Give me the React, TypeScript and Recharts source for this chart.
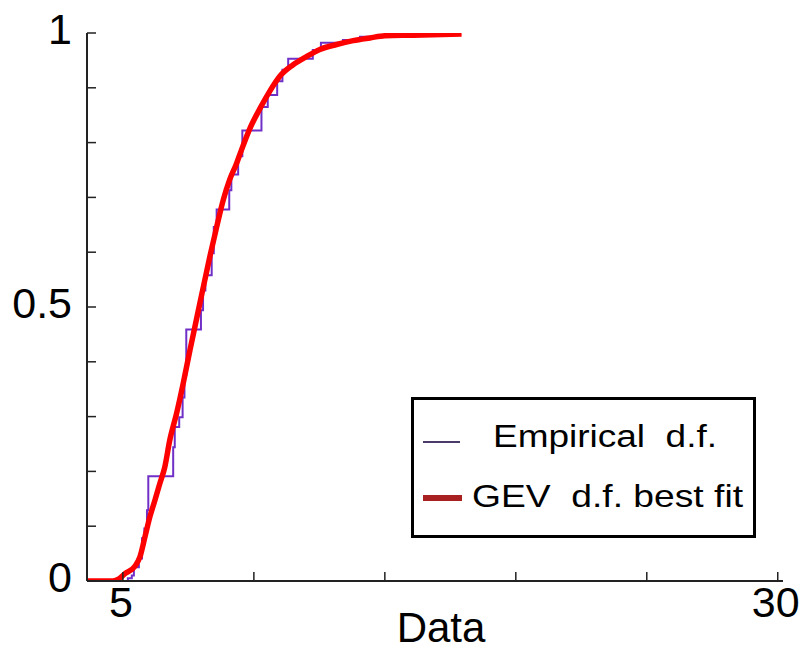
import { Line, LineChart, XAxis, YAxis } from "recharts";

// GEV fitted CDF
const gevX = [3.63, 4.62, 4.85, 5.08, 5.46, 5.65, 5.84, 6.03, 6.22, 6.41, 6.6, 6.79, 7.05, 7.3, 7.56, 7.94, 8.32, 8.58, 8.83, 9.08, 9.34, 9.5, 9.85, 10.23, 10.61, 10.99, 11.5, 12.01, 12.52, 13.16, 13.79, 14.43, 15.0, 16.07, 17.93];
const gevY = [0, 0, 0.004, 0.0135, 0.027, 0.044, 0.08, 0.117, 0.147, 0.178, 0.208, 0.257, 0.306, 0.36, 0.421, 0.507, 0.592, 0.646, 0.695, 0.733, 0.762, 0.783, 0.826, 0.862, 0.894, 0.921, 0.942, 0.957, 0.97, 0.979, 0.986, 0.991, 0.995, 0.996, 0.998];

// empirical d.f. jumps (x where the step rises, level after the jump)
const empX = [3.63, 5.19, 5.34, 5.42, 5.61, 5.73, 5.82, 5.92, 5.97, 6.92, 6.98, 7.15, 7.28, 7.35, 7.42, 7.98, 8.06, 8.15, 8.39, 8.47, 8.58, 9.06, 9.14, 9.4, 9.56, 10.29, 10.53, 10.89, 11.09, 11.31, 12.25, 12.56, 13.4, 14.05, 15.19, 16.34];
const empY = [0, 0.005, 0.01, 0.025, 0.041, 0.078, 0.096, 0.129, 0.191, 0.244, 0.281, 0.299, 0.335, 0.376, 0.459, 0.494, 0.53, 0.558, 0.598, 0.646, 0.678, 0.713, 0.742, 0.775, 0.822, 0.865, 0.887, 0.912, 0.933, 0.953, 0.969, 0.982, 0.987, 0.993, 0.999, 1];

const xTicks = [5, 10, 15, 20, 25, 30];
const xTickLabels = [5, 30];
const yTicks = [0, 0.1, 0.2, 0.3, 0.4, 0.5, 0.6, 0.7, 0.8, 0.9, 1];
const yTickLabels = [0, 0.5, 1];

const gevData = gevX.map((x, i) => ({ x, y: gevY[i] }));
const empData = empX.map((x, i) => ({ x, y: empY[i] }));

const FONT = "'Liberation Sans', Arial, sans-serif";
const TICK_LEN = 9;
const FRAME = "#222";

const BottomTick = ({ x, y, payload }: any) => (
  <g>
    <line x1={x} y1={y} x2={x} y2={y - TICK_LEN} stroke={FRAME} strokeWidth={1.5} />
    {xTickLabels.includes(payload.value) && (
      <text x={x - 2} y={y + 36} textAnchor="middle" fontSize={43} fontFamily={FONT} fill="#000">
        {payload.value}
      </text>
    )}
  </g>
);

const TopTick = ({ x, y }: any) => (
  <line x1={x} y1={y} x2={x} y2={y + TICK_LEN} stroke={FRAME} strokeWidth={1.5} />
);

const LeftTick = ({ x, y, payload }: any) => (
  <g>
    <line x1={x} y1={y} x2={x + TICK_LEN} y2={y} stroke={FRAME} strokeWidth={1.5} />
    {yTickLabels.includes(payload.value) && (
      <text x={x - 15} y={y + 11} textAnchor="end" fontSize={43} fontFamily={FONT} fill="#000">
        {payload.value}
      </text>
    )}
  </g>
);

const RightTick = ({ x, y }: any) => (
  <line x1={x} y1={y} x2={x - TICK_LEN} y2={y} stroke={FRAME} strokeWidth={1.5} />
);

function LegendBox() {
  return (
    <svg
      width={345}
      height={141}
      style={{ position: "absolute", left: 411, top: 397 }}
    >
      <rect x={1.5} y={1.5} width={342} height={138} fill="#fff" stroke="#000" strokeWidth={3} />
      <line x1={12} y1={45} x2={49} y2={45} stroke="#4a3a6a" strokeWidth={2} />
      <text x={82} y={50} fontSize={31} fontFamily={FONT} textLength={224} lengthAdjust="spacingAndGlyphs" xmlSpace="preserve">
        Empirical  d.f.
      </text>
      <line x1={12} y1={101} x2={51} y2={101} stroke="#a82020" strokeWidth={6} />
      <text x={61} y={110} fontSize={32} fontFamily={FONT} textLength={271} lengthAdjust="spacingAndGlyphs" xmlSpace="preserve">
        GEV  d.f. best fit
      </text>
    </svg>
  );
}

export default function App() {
  return (
    <div style={{ position: "absolute", left: 0, top: 0, width: 808, height: 653, background: "#fff" }}>
      <LineChart width={808} height={653} margin={{ top: 33, right: 25, left: 0, bottom: 0 }}>
        <XAxis
          dataKey="x"
          type="number"
          domain={[3.63, 30.2]}
          allowDataOverflow
          ticks={xTicks}
          interval={0}
          height={72}
          tickSize={0}
          tickMargin={0}
          tickLine={false}
          tick={<BottomTick />}
          axisLine={{ stroke: FRAME, strokeWidth: 2 }}
          label={{ value: "Data", position: "insideBottom", offset: 11, dx: 6, fontSize: 42, fontFamily: FONT, fill: "#000" }}
        />
        <XAxis
          xAxisId="top"
          orientation="top"
          dataKey="x"
          type="number"
          domain={[3.63, 30.2]}
          allowDataOverflow
          ticks={xTicks}
          interval={0}
          height={0}
          tickSize={0}
          tickMargin={0}
          tickLine={false}
          tick={<TopTick />}
          axisLine={{ stroke: FRAME, strokeWidth: 2 }}
        />
        <YAxis
          type="number"
          domain={[0, 1]}
          allowDataOverflow
          ticks={yTicks}
          interval={0}
          width={87}
          tickSize={0}
          tickMargin={0}
          tickLine={false}
          tick={<LeftTick />}
          axisLine={{ stroke: FRAME, strokeWidth: 2 }}
        />
        <YAxis
          yAxisId="right"
          orientation="right"
          type="number"
          domain={[0, 1]}
          allowDataOverflow
          ticks={yTicks}
          interval={0}
          width={0}
          tickSize={0}
          tickMargin={0}
          tickLine={false}
          tick={<RightTick />}
          axisLine={{ stroke: FRAME, strokeWidth: 2 }}
        />
        <Line
          data={empData}
          dataKey="y"
          type="stepAfter"
          stroke="#7030c8"
          strokeWidth={2}
          dot={false}
          activeDot={false}
          isAnimationActive={false}
        />
        <Line
          data={gevData}
          dataKey="y"
          type="monotone"
          stroke="#ff0000"
          strokeWidth={5.5}
          dot={false}
          activeDot={false}
          isAnimationActive={false}
        />
      </LineChart>
      <LegendBox />
    </div>
  );
}
